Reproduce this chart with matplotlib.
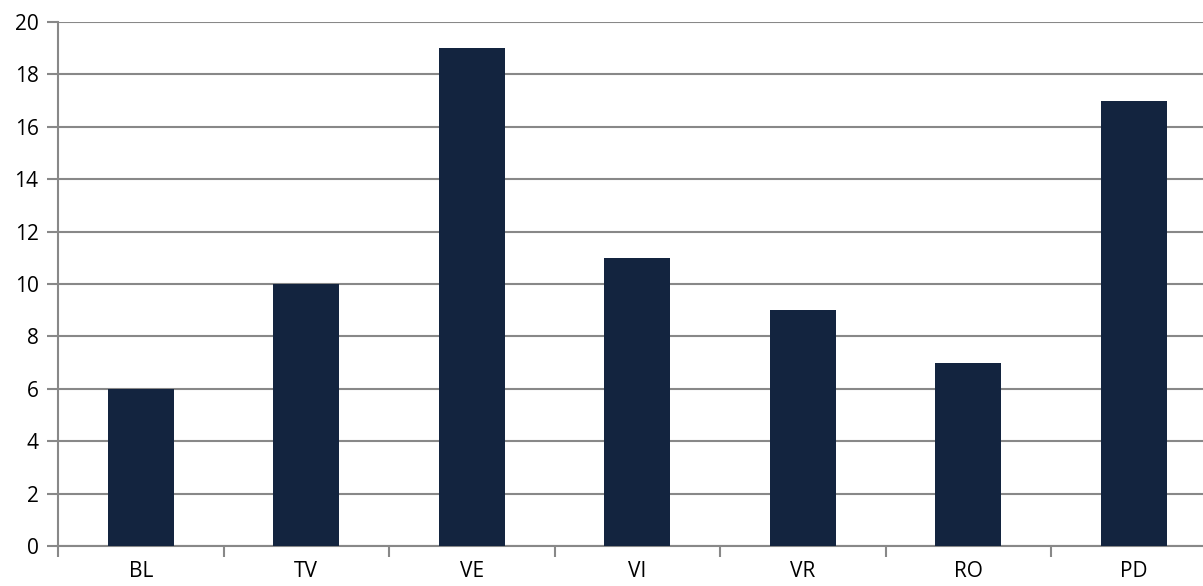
import numpy as np
import matplotlib
matplotlib.use("Agg")
import matplotlib.pyplot as plt

categories = ['BL', 'TV', 'VE', 'VI', 'VR', 'RO', 'PD']
values = [6, 10, 19, 11, 9, 7, 17]
y_ticks = list(range(0, 21, 2))

plt.rcParams['font.family'] = ['Open Sans', 'DejaVu Sans']

fig = plt.figure(figsize=(12.03, 5.86), dpi=100)
# the original chart is cut off on the right side
ax = fig.add_axes([58 / 1203, 40 / 586, 1158.5 / 1203, 524 / 586])

grey = '#888888'
x = np.arange(len(categories))
ax.bar(x, values, width=0.4, color='#13243f', zorder=3)

ax.set_xlim(-0.5, len(categories) - 0.5)
ax.set_ylim(0, 20)
ax.set_yticks(y_ticks)
ax.yaxis.grid(True, color=grey, linewidth=1.5, zorder=0)

ax.set_xticks(x)
ax.set_xticklabels(categories)
ax.set_xticks(np.arange(len(categories) + 1) - 0.5, minor=True)
ax.tick_params(axis='x', which='major', length=0, pad=11, labelsize=15)
ax.tick_params(axis='x', which='minor', length=8, width=1.5, color=grey)
ax.tick_params(axis='y', length=8, width=1.5, color=grey, labelsize=15, pad=6)

for side in ['top', 'right']:
    ax.spines[side].set_visible(False)
for side in ['left', 'bottom']:
    ax.spines[side].set_color(grey)
    ax.spines[side].set_linewidth(1.5)

fig.savefig('out.png', dpi=100)
